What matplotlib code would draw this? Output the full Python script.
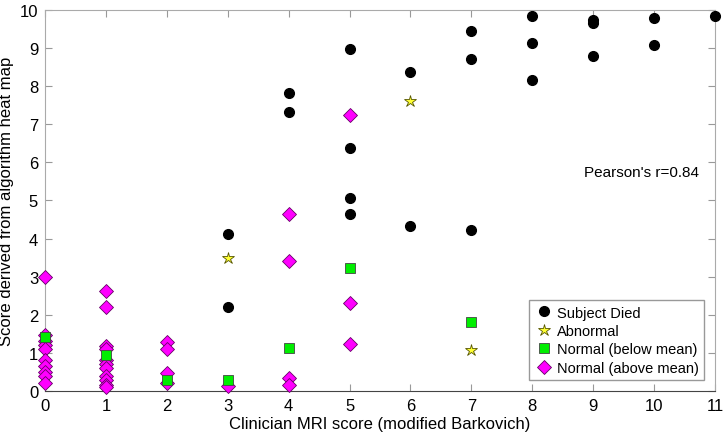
import matplotlib
matplotlib.use("Agg")
import matplotlib.pyplot as plt

plt.rcParams['font.family'] = ['Liberation Sans', 'DejaVu Sans']

# Subject died
died_x = [3, 3, 4, 4, 5, 5, 5, 5, 6, 6, 7, 7, 7, 8, 8, 8, 9, 9, 9, 10, 10, 11]
died_y = [4.12, 2.2, 7.83, 7.33, 8.98, 6.38, 5.05, 4.65, 8.36, 4.32, 9.45, 8.7, 4.22,
          9.85, 9.14, 8.17, 9.73, 9.65, 8.78, 9.78, 9.08, 9.85]

# Abnormal
abn_x = [3, 6, 7]
abn_y = [3.5, 7.6, 1.08]

# Normal (below mean)
below_x = [0, 1, 2, 3, 4, 5, 7]
below_y = [1.42, 0.95, 0.3, 0.28, 1.12, 3.23, 1.82]

# Normal (above mean)
above_x = [0, 0, 0, 0, 0, 0, 0, 0, 0, 0,
           1, 1, 1, 1, 1, 1, 1, 1, 1, 1, 1,
           2, 2, 2, 2,
           3,
           4, 4, 4, 4,
           5, 5, 5]
above_y = [3.0, 1.48, 1.3, 1.2, 1.1, 0.8, 0.65, 0.5, 0.4, 0.22,
           2.62, 2.2, 1.18, 1.1, 0.8, 0.7, 0.6, 0.38, 0.3, 0.15, 0.1,
           1.28, 1.1, 0.48, 0.2,
           0.12,
           4.65, 3.42, 0.33, 0.15,
           7.25, 2.3, 1.22]

fig = plt.figure(figsize=(7.27, 4.35), dpi=100)
ax = fig.add_axes([0.062, 0.099, 0.9215, 0.876])

ax.plot(died_x, died_y, 'o', color='black', markersize=7, label='Subject Died',
        clip_on=False, zorder=3)
ax.plot(abn_x, abn_y, '*', markerfacecolor='#ffff33', markeredgecolor='#555500',
        markeredgewidth=0.6, markersize=9, label='Abnormal', clip_on=False, zorder=3)
ax.plot(below_x, below_y, 's', markerfacecolor='#00ee00', markeredgecolor='#444444',
        markeredgewidth=0.6, markersize=6.5, label='Normal (below mean)',
        clip_on=False, zorder=4)
ax.plot(above_x, above_y, 'D', markerfacecolor='#ff00ff', markeredgecolor='#660066',
        markeredgewidth=0.6, markersize=7, label='Normal (above mean)',
        clip_on=False, zorder=3)

ax.set_xlim(0, 11)
ax.set_ylim(0, 10)
ax.set_xticks(range(0, 12))
ax.set_yticks(range(0, 11))
ax.tick_params(direction='in', top=True, right=True, labelsize=12, color='#999999',
               length=5, pad=5)
for s in ['left', 'top', 'right']:
    ax.spines[s].set_color('#aaaaaa')
ax.spines['bottom'].set_color('#444444')

ax.set_xlabel('Clinician MRI score (modified Barkovich)', fontsize=12, labelpad=2)
ax.set_ylabel('Score derived from algorithm heat map', fontsize=12, labelpad=4)

ax.text(9.8, 5.75, "Pearson's r=0.84", fontsize=11, ha='center', va='center')

leg = ax.legend(loc='lower right', bbox_to_anchor=(0.995, 0.01), fontsize=10.5,
                fancybox=False, framealpha=1, edgecolor='#999999',
                handletextpad=0.3, borderpad=0.35, labelspacing=0.3, handlelength=1.3)

fig.savefig('out.png', dpi=100)
